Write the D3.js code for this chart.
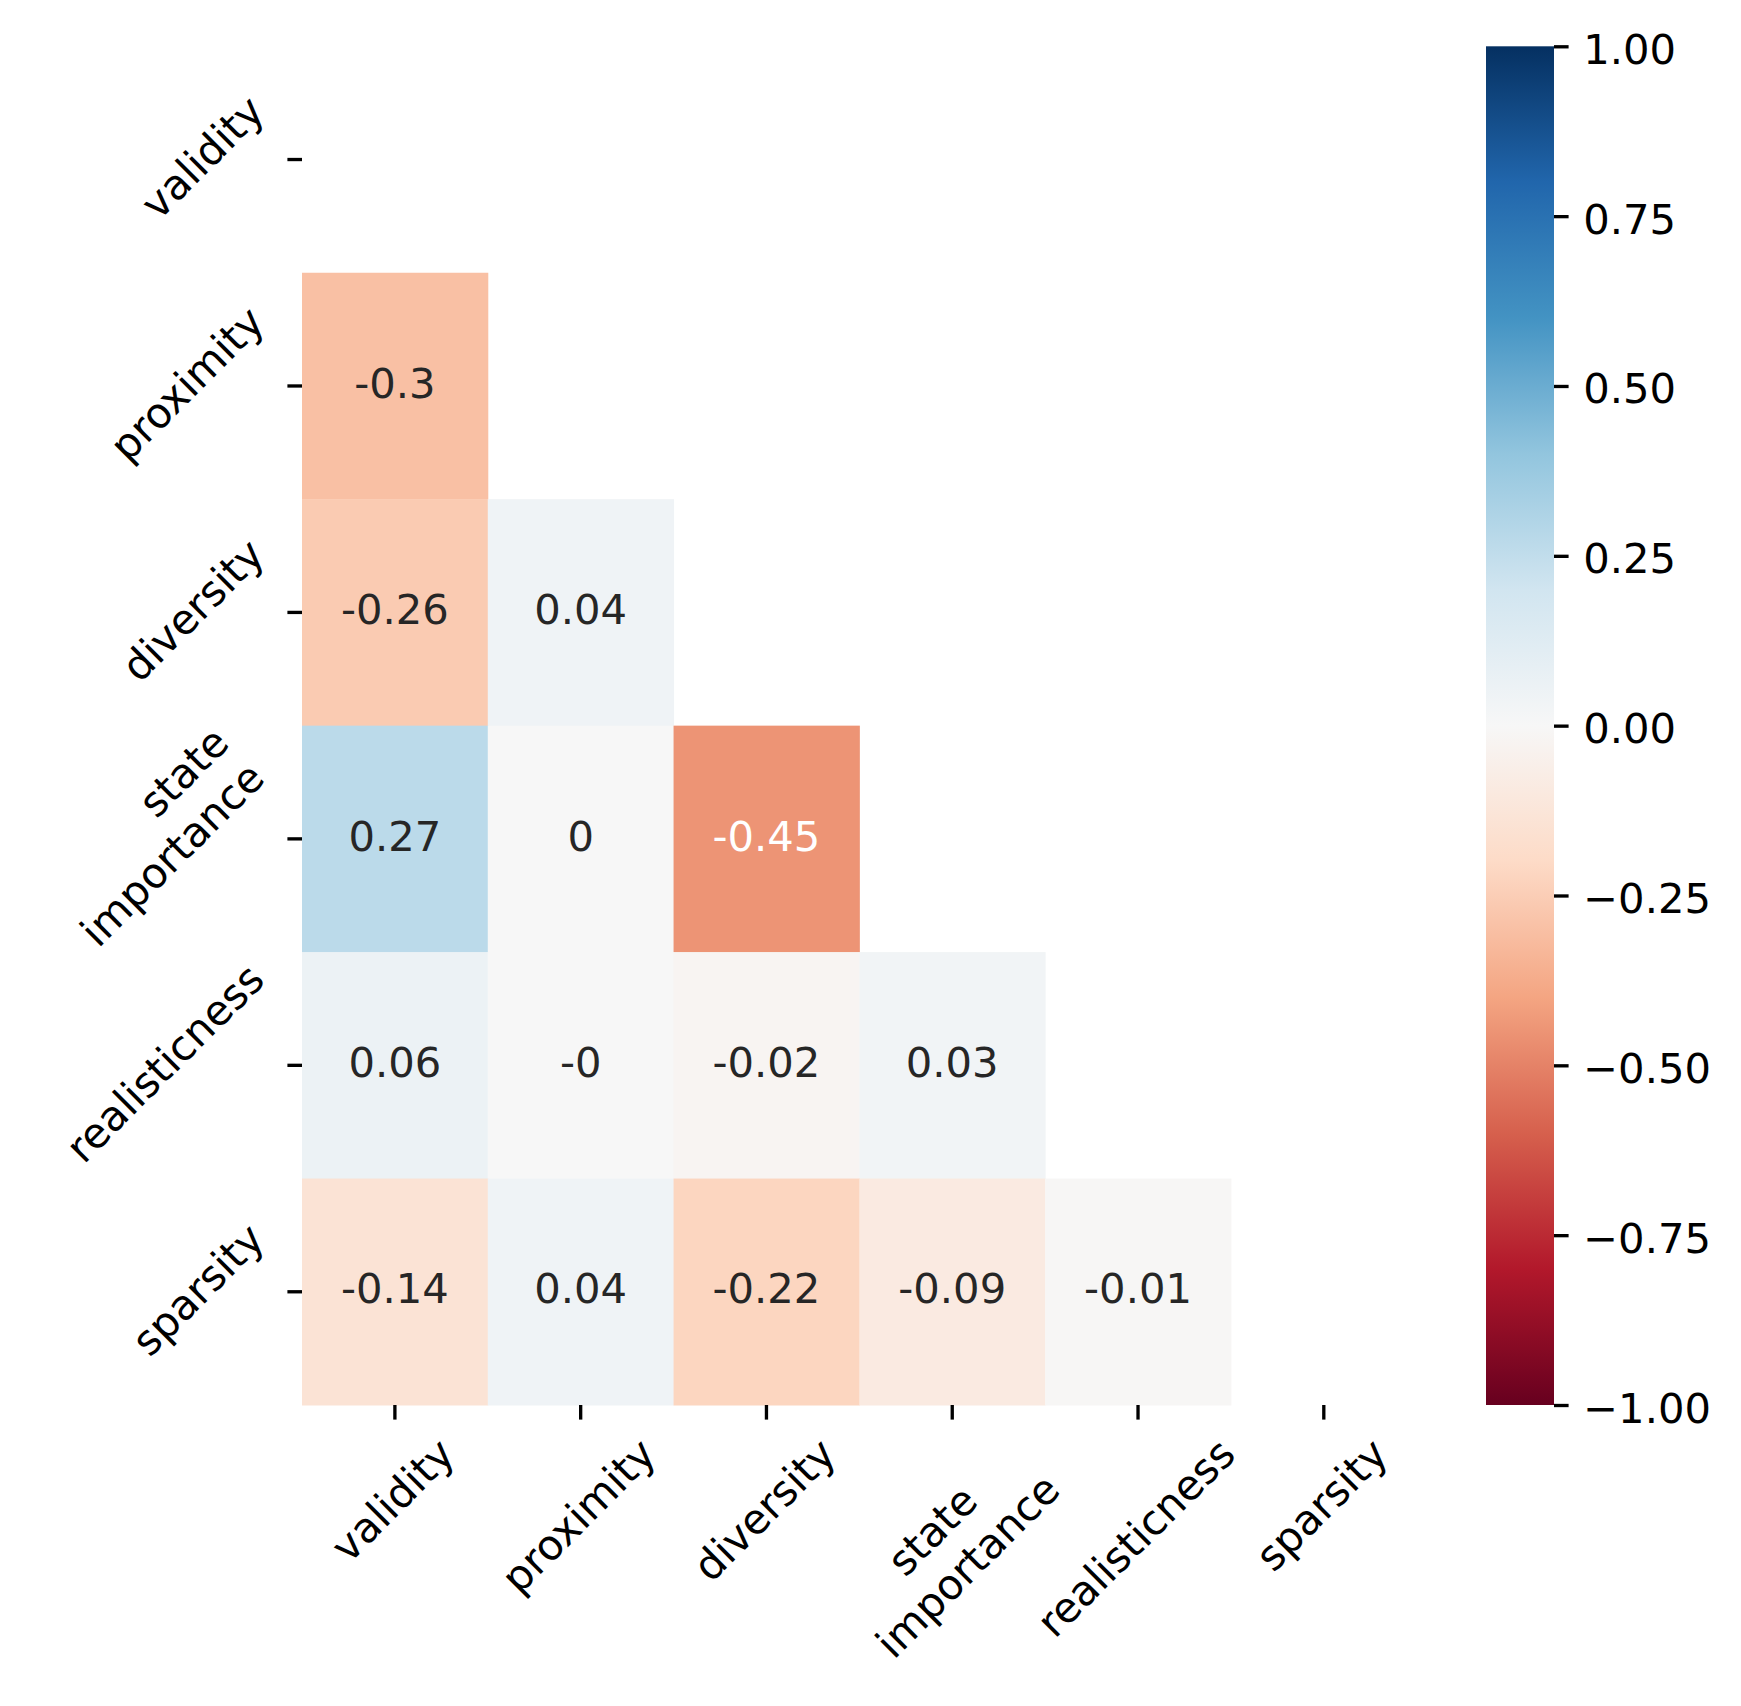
<!DOCTYPE html>
<html>
<head>
<meta charset="utf-8">
<script src="https://cdn.jsdelivr.net/npm/d3@7"></script>
<style>
html,body{margin:0;padding:0;background:#fff;}
svg{display:block;}
</style>
</head>
<body>
<svg id="chart" width="1741" height="1706"></svg>
<script>
// ---- data ----
const labels = ["validity", "proximity", "diversity", "state\nimportance", "realisticness", "sparsity"];
// lower-triangle correlation rows (row i has i values, columns 0..i-1)
const row_proximity = [-0.3];
const row_diversity = [-0.26, 0.04];
const row_state = [0.27, 0, -0.45];
const row_realisticness = [0.06, -0, -0.02, 0.03];
const row_sparsity = [-0.14, 0.04, -0.22, -0.09, -0.01];
const rows = [[], row_proximity, row_diversity, row_state, row_realisticness, row_sparsity];
const cbarTicks = [-1, -0.75, -0.5, -0.25, 0, 0.25, 0.5, 0.75, 1];
const rdbu = ["#67001f","#b2182b","#d6604d","#f4a582","#fddbc7","#f7f7f7","#d1e5f0","#92c5de","#4393c3","#2166ac","#053061"];

// ---- layout ----
const FS = 41.7;
const font = "'DejaVu Sans', sans-serif";
const hmL = 302, hmT = 46.3, hmR = 1416.7, hmB = 1405;
const tickLen = 14.6, tickW = 3.33, pad = 14.6;
const cbX0 = 1486, cbX1 = 1554;

const svg = d3.select("#chart");
svg.append("rect").attr("width", 1741).attr("height", 1706).attr("fill", "#fff");

const x = d3.scaleBand().domain(d3.range(labels.length)).range([hmL, hmR]);
const y = d3.scaleBand().domain(d3.range(labels.length)).range([hmT, hmB]);
const color = d3.scaleLinear()
  .domain(d3.range(11).map(i => -1 + i * 0.2))
  .range(rdbu)
  .interpolate(d3.interpolateRgb)
  .clamp(true);

const cells = [];
rows.forEach((r, i) => r.forEach((v, j) => cells.push({i, j, v})));

function fmt(v) { return Object.is(v, -0) ? "-0" : String(v); }
function textColor(c) {
  const rgb = d3.rgb(c);
  const lin = u => { u /= 255; return u <= 0.03928 ? u / 12.92 : Math.pow((u + 0.055) / 1.055, 2.4); };
  const lum = 0.2126 * lin(rgb.r) + 0.7152 * lin(rgb.g) + 0.0722 * lin(rgb.b);
  return lum > 0.408 ? "#262626" : "#ffffff";
}

const g = svg.append("g");
g.selectAll("rect.cell").data(cells).enter().append("rect")
  .attr("class", "cell")
  .attr("x", d => x(d.j)).attr("y", d => y(d.i))
  .attr("width", x.bandwidth() + 0.5).attr("height", y.bandwidth() + 0.5)
  .attr("fill", d => color(d.v));

g.selectAll("text.annot").data(cells).enter().append("text")
  .attr("class", "annot")
  .attr("x", d => x(d.j) + x.bandwidth() / 2)
  .attr("y", d => y(d.i) + y.bandwidth() / 2 + 0.28 * FS)
  .attr("text-anchor", "middle")
  .attr("font-family", font).attr("font-size", FS)
  .attr("fill", d => textColor(color(d.v)))
  .text(d => fmt(d.v));

// ---- ticks ----
const xAxis = d3.axisBottom(x).tickSize(tickLen).tickFormat("");
const gx = svg.append("g").attr("transform", `translate(0,${hmB})`).call(xAxis);
gx.select(".domain").remove();
gx.selectAll(".tick line").attr("stroke", "#000").attr("stroke-width", tickW);

const yAxis = d3.axisLeft(y).tickSize(tickLen).tickFormat("");
const gy = svg.append("g").attr("transform", `translate(${hmL},0)`).call(yAxis);
gy.select(".domain").remove();
gy.selectAll(".tick line").attr("stroke", "#000").attr("stroke-width", tickW);

// rotated multi-line label, matplotlib-like bbox alignment
const ASC = 0.76 * FS, LINE_H = 0.97 * FS, GAP = 1.2 * FS;
function rotLabel(text, mode, px, py) {
  const lines = text.split("\n");
  const grp = svg.append("g");
  const inner = grp.append("g");
  const tEls = lines.map(l => inner.append("text")
    .attr("font-family", font).attr("font-size", FS).attr("fill", "#000").text(l));
  const widths = tEls.map(t => t.node().getComputedTextLength());
  const w = d3.max(widths);
  const h = LINE_H + (lines.length - 1) * GAP;
  tEls.forEach((t, k) => {
    t.attr("y", -h / 2 + ASC + k * GAP);
    if (mode === "x") t.attr("text-anchor", "middle").attr("x", 0);
    else t.attr("text-anchor", "end").attr("x", w / 2);
  });
  const W = (w + h) / Math.SQRT2;
  let cx, cy;
  if (mode === "x") { cx = px; cy = py + W / 2; }
  else { cx = px - W / 2; cy = py; }
  grp.attr("transform", `translate(${cx},${cy}) rotate(-45)`);
}
labels.forEach((l, k) => {
  rotLabel(l, "x", x(k) + x.bandwidth() / 2, hmB + tickLen + pad);
  rotLabel(l, "y", hmL - tickLen - pad, y(k) + y.bandwidth() / 2);
});

// ---- colorbar ----
const defs = svg.append("defs");
const grad = defs.append("linearGradient").attr("id", "cbgrad")
  .attr("x1", 0).attr("y1", 1).attr("x2", 0).attr("y2", 0);
rdbu.forEach((c, k) => grad.append("stop").attr("offset", k / 10).attr("stop-color", c));
svg.append("rect").attr("x", cbX0).attr("y", hmT).attr("width", cbX1 - cbX0).attr("height", hmB - hmT)
  .attr("fill", "url(#cbgrad)");

const cScale = d3.scaleLinear().domain([-1, 1]).range([hmB, hmT]);
const cAxis = d3.axisRight(cScale).tickValues(cbarTicks).tickSize(tickLen).tickPadding(pad)
  .tickFormat(v => d3.format(".2f")(v).replace("-", "\u2212"));
const gc = svg.append("g").attr("transform", `translate(${cbX1},0)`).call(cAxis);
gc.select(".domain").remove();
gc.selectAll(".tick line").attr("stroke", "#000").attr("stroke-width", tickW);
gc.selectAll(".tick text").attr("font-family", font).attr("font-size", FS).attr("fill", "#000")
  .attr("dy", null).attr("y", 0.36 * FS + 2);
</script>
</body>
</html>
